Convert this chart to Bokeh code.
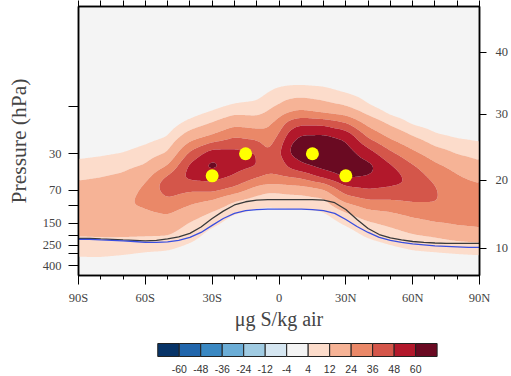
import numpy as np
from bokeh.plotting import figure
from bokeh.layouts import column
from bokeh.models import Range1d, LinearAxis, LogAxis, FixedTicker
from bokeh.core.properties import value
from bokeh.embed import file_html
from bokeh.resources import INLINE

# ---------------- data ----------------
lats = [-90, -80, -70, -60, -50, -40, -30, -20, -10, -5, 0, 5, 10, 20, 30, 40, 50, 60, 70, 80, 90]
pres = [1, 3, 5, 7, 10, 12, 15, 20, 25, 30, 40, 50, 60, 70, 85, 100, 125, 150, 175, 200, 250, 300, 400, 500]
# concentration (ug S / kg air), one row per pressure level, one column per latitude
conc = [
    [0]*21,
    [0]*21,
    [0, 0, 0, 0, 0, 0, 0, 0, 0, 0, 0, 0.3, 0.3, 0, 0, 0, 0, 0, 0, 0, 0],
    [0, 0, 0, 0, 0, 0, 0, 0, 0.3, 3.3, 5.4, 6.3, 6.5, 5.6, 2.7, 0, 0, 0, 0, 0, 0],
    [0, 0, 0, 0, 0, 0, 2, 4.8, 6.1, 9.5, 13, 17.5, 19.2, 15.6, 12, 4.7, 0.3, 0, 0, 0, 0],
    [0, 0, 0, 0, 0, 1.7, 5.5, 11.2, 10.4, 13.6, 21, 27, 30, 25.7, 21.6, 10.5, 3, 0, 0, 0, 0],
    [0, 0, 0, 0, 0, 6.4, 13, 21, 19, 21.6, 29.3, 42, 46.3, 45.6, 37.7, 20.7, 10.2, 3, 0.7, 0, 0],
    [0, 0, 0, 1, 3.7, 17.5, 25.7, 34.8, 31.6, 27.9, 37.7, 54, 61.4, 62.1, 57, 33.8, 21.2, 12, 5.2, 3, 2],
    [0, 0.3, 1.7, 4.4, 8.5, 29.3, 42, 45.8, 42, 33, 43.5, 60.7, 66.1, 66.3, 62.4, 45.6, 31, 20.6, 11.4, 7.5, 5.6],
    [2, 3, 4.4, 7.6, 12.9, 39, 55, 51.5, 48.5, 37, 46.1, 60.9, 65.9, 66.5, 66, 54, 39, 27.4, 18, 11.5, 8.8],
    [6.6, 7.8, 9.7, 13, 24.7, 50.7, 64.2, 52, 48.4, 42, 40.4, 51.2, 57.4, 64, 66, 64, 49.6, 37.4, 26.8, 20.1, 14.7],
    [10.4, 11.6, 13.3, 19.3, 36.8, 51.9, 52.5, 47.1, 38.4, 34, 36, 37.7, 40, 53, 63, 60, 54, 42.9, 31.5, 24.8, 20.4],
    [13.1, 13.9, 16, 24.3, 43.4, 44.7, 46.8, 39.7, 28, 25, 25.3, 26.7, 28, 34.3, 52, 53, 50, 46.5, 35.5, 26.5, 24.5],
    [14.9, 15.8, 18.3, 26.5, 41.3, 37.1, 38.4, 30.9, 17.1, 13.3, 13.7, 15.4, 16, 22.3, 42, 46.8, 45, 42.6, 37.2, 28, 26.1],
    [17.1, 18, 21, 27.1, 35.3, 29.5, 25.7, 14.4, 9.1, 8.3, 8.5, 8.8, 8.8, 10.9, 30.9, 37.2, 37, 38.2, 37.1, 29.7, 27.9],
    [18.9, 19.9, 22.7, 25.1, 30.4, 23.3, 16.8, 8.6, 5.1, 4.5, 5, 5.1, 5.1, 6.9, 18.9, 28.8, 30, 33.6, 34.7, 30.7, 29.5],
    [18.2, 19.1, 19.3, 21.3, 23.4, 16.2, 9.3, 3.3, 1.3, 1, 1.3, 1.3, 1.3, 2.3, 9, 16.8, 20.8, 25.6, 28.4, 27.7, 27.8],
    [15.9, 16.5, 16.7, 17.8, 18.9, 11.2, 5.8, 0.7, 0, 0, 0, 0, 0, 0, 5, 10.2, 14.4, 19.5, 23.1, 25.2, 25.6],
    [13.8, 14.3, 14.3, 14.7, 14.9, 8.6, 3, 0, 0, 0, 0, 0, 0, 0, 2.3, 7.1, 10.2, 14.3, 17.1, 21, 23],
    [12.3, 12.6, 12.7, 12.4, 12, 6.7, 1.3, 0, 0, 0, 0, 0, 0, 0, 0.7, 4.9, 8, 11, 12.9, 16, 18],
    [8.4, 8.6, 8.2, 7.2, 6.3, 3, 0, 0, 0, 0, 0, 0, 0, 0, 0, 1.3, 3.7, 6, 7.2, 8.6, 9.5],
    [5.2, 5.3, 4.5, 3.3, 2.7, 0.3, 0, 0, 0, 0, 0, 0, 0, 0, 0, 0, 1, 2.7, 3.3, 4, 4.6],
    [0.8, 0.8, 0.2, 0, 0, 0, 0, 0, 0, 0, 0, 0, 0, 0, 0, 0, 0, 0, 0, 0, 0],
    [0]*21,
]

# tropopause lines (hPa) every 5 degrees
line_lats = [-90, -85, -80, -75, -70, -65, -60, -55, -50, -45, -40, -35, -30, -25, -20, -15, -10, -5, 0,
             5, 10, 15, 20, 25, 30, 35, 40, 45, 50, 55, 60, 65, 70, 75, 80, 85, 90]
black_p = [212, 212, 215, 217, 220, 222, 225, 222, 215, 205, 189, 163, 134, 113, 98, 91, 87.5, 86.5, 86.5,
           86.5, 86.5, 86.5, 87.5, 93, 109, 137, 169, 194, 210, 220, 228, 233, 236, 238, 238, 238, 238]
blue_p = [217, 217, 220, 222, 225, 228, 233, 233, 230, 222, 207.5, 185, 157, 134, 119, 111.5, 109, 107.7, 107.7,
          107.7, 107.7, 109, 111.5, 119, 137, 161, 185, 207.5, 222, 233, 241, 246.5, 252, 255, 258, 261, 261]

# marked points
dot_lat = [-30, -15, 15, 30]
dot_p = [50, 30, 30, 50]

# contour levels / colour bar
cb_levels = [-60, -48, -36, -24, -12, -4, 4, 12, 24, 36, 48, 60]
cb_colors = ["#083468", "#2166ac", "#3a88c2", "#6badd6", "#a0cbe2", "#d5e6f1", "#f4f4f4",
             "#fcdccb", "#f6b396", "#ea8868", "#d4564a", "#b2182b", "#6a0a22"]

# axes
x_major = [-90, -60, -30, 0, 30, 60, 90]
x_minor = [-80, -70, -50, -40, -20, -10, 10, 20, 40, 50, 70, 80]
x_labels = ["90S", "60S", "30S", "0", "30N", "60N", "90N"]
p_labeled = [30, 70, 150, 250, 400]
p_unlabeled = [10, 100, 200, 300]
km_labels = ["10", "20", "30", "40"]
km_pres = [265, 55.3, 12.0, 2.87]

# ---------------- field on fine grid ----------------
Z = np.array(conc, dtype=float)
logp_rows = np.log10(pres)
lat_f = np.linspace(-90, 90, 361)
logp_f = np.linspace(0, np.log10(500), 300)
Zp = np.array([np.interp(logp_f, logp_rows, Z[:, j]) for j in range(Z.shape[1])]).T
Zf = np.array([np.interp(lat_f, lats, Zp[i, :]) for i in range(Zp.shape[0])])


def smooth(a, n, axis):
    k = np.ones(n) / n
    pad = n // 2
    a = np.moveaxis(a, axis, -1)
    ap = np.pad(a, [(0, 0)] * (a.ndim - 1) + [(pad, pad)], mode="edge")
    out = np.apply_along_axis(lambda r: np.convolve(r, k, mode="valid"), -1, ap)
    return np.moveaxis(out, -1, axis)


for _ in range(2):
    Zf = smooth(smooth(Zf, 7, 0), 7, 1)

X, Y = np.meshgrid(lat_f, 10 ** logp_f)

serif = "Liberation Serif"
W = 511

p = figure(width=W, height=332, x_range=Range1d(-90, 90), y_range=Range1d(500, 1),
           y_axis_type="log", output_backend="svg", toolbar_location=None,
           min_border_left=78, min_border_right=31, min_border_top=6, min_border_bottom=57,
           background_fill_color="#f4f4f4", border_fill_color="white",
           outline_line_color="black", outline_line_width=1.5)
p.grid.visible = False

pos_levels = [lv for lv in cb_levels if lv > 0] + [1000]
pos_colors = cb_colors[-(len(pos_levels) - 1):]
p.contour(x=X, y=Y, z=Zf, levels=pos_levels, fill_color=pos_colors, line_color=None)

p.line(line_lats, black_p, line_color="#3a3a3a", line_width=1.3)
p.line(line_lats, blue_p, line_color="#3a4fe0", line_width=1.3)
p.scatter(dot_lat, dot_p, size=13, fill_color="#ffff00", line_color=None)

# bottom axis
xa = p.xaxis[0]
xa.ticker = FixedTicker(ticks=x_major, minor_ticks=x_minor)
xa.major_label_overrides = {t: l for t, l in zip(x_major, x_labels)}
xa.major_tick_out = 9
xa.major_tick_in = 0
xa.minor_tick_out = 4
xa.minor_tick_in = 0
xa.major_label_standoff = 6
xa.major_label_text_font = serif
xa.major_label_text_font_size = "12.5px"
xa.axis_label = "\u03bcg S/kg air"
xa.axis_label_text_font = serif
xa.axis_label_text_font_size = "20px"
xa.axis_label_text_font_style = "normal"
xa.axis_label_standoff = 0
xa.axis_line_width = 1.5

# left axis
ya = p.yaxis[0]
ya.ticker = FixedTicker(ticks=p_labeled, minor_ticks=p_unlabeled)
ya.major_tick_out = 10
ya.major_tick_in = 0
ya.minor_tick_out = 10
ya.minor_tick_in = 0
ya.major_label_standoff = 7
ya.major_label_text_font = serif
ya.major_label_text_font_size = "12.5px"
ya.axis_label = "Pressure (hPa)"
ya.axis_label_text_font = serif
ya.axis_label_text_font_size = "21.5px"
ya.axis_label_text_font_style = "normal"
ya.axis_label_standoff = 9
ya.axis_line_width = 1.5

# top axis (ticks only)
top = LinearAxis(ticker=FixedTicker(ticks=[], minor_ticks=x_major + x_minor),
                 minor_tick_out=6, minor_tick_in=0, major_tick_out=6, major_tick_in=0,
                 axis_line_width=1.5)
p.add_layout(top, "above")

# right axis (altitude, km)
right = LogAxis(ticker=FixedTicker(ticks=km_pres, minor_ticks=[]),
                major_label_overrides={t: l for t, l in zip(km_pres, km_labels)},
                major_tick_out=7, major_tick_in=0, major_label_standoff=9,
                major_label_text_font=serif, major_label_text_font_size="12.5px",
                axis_line_width=1.5)
p.add_layout(right, "right")

# ---------------- colour bar ----------------
box_w = 356 / len(cb_colors)
left0 = 101
cb_h = 44
cb = figure(width=W, height=cb_h,
            x_range=Range1d(-left0 / box_w, (W - left0) / box_w), y_range=Range1d(cb_h, 0),
            output_backend="svg", toolbar_location=None, x_axis_location=None, y_axis_location=None,
            min_border=0, outline_line_color=None, border_fill_color="white", background_fill_color="white")
cb.grid.visible = False
idx = list(range(len(cb_colors)))
cb.quad(left=idx, right=[i + 1 for i in idx], top=11, bottom=24, fill_color=cb_colors,
        line_color="#222222", line_width=1)
cb.text(x=list(range(1, len(cb_levels) + 1)), y=36, text=[str(v) for v in cb_levels],
        text_align="center", text_baseline="middle", text_font=value("Liberation Sans"),
        text_font_size="10.5px", text_color="#333333")

layout = column(p, cb, spacing=0)
open("out.html", "w").write(file_html(layout, INLINE))
